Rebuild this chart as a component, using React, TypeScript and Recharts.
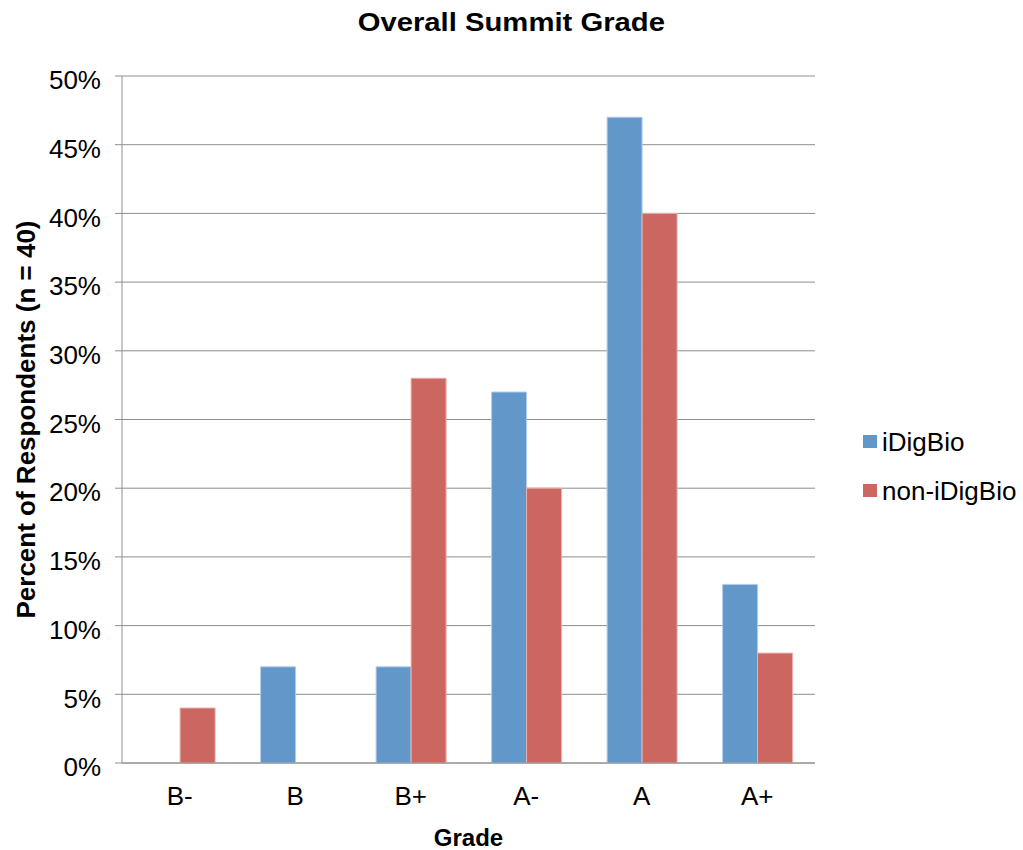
import React from 'react';
import { BarChart, Bar, XAxis, YAxis, CartesianGrid, Legend, Label } from 'recharts';

const categories = ['B-', 'B', 'B+', 'A-', 'A', 'A+'];
const iDigBioValues = [0, 7, 7, 27, 47, 13];
const nonIDigBioValues = [4, 0, 28, 20, 40, 8];
const yTicks = [0, 5, 10, 15, 20, 25, 30, 35, 40, 45, 50];
const boundaryTicks = [0, 1, 2, 3, 4, 5, 6];
const seriesNames = ['iDigBio', 'non-iDigBio'];
const seriesColors = ['#6197C9', '#CC6661'];

const data = categories.map((c, i) => ({
  grade: c,
  iDigBio: iDigBioValues[i],
  nonIDigBio: nonIDigBioValues[i],
}));

const FONT = '"Liberation Sans", Arial, Helvetica, sans-serif';
const AXIS_GRAY = '#8E8E8E';

const EmptyTick = () => <g />;

const YLabel = (props: any) => {
  const vb = props.viewBox || { x: 0, y: 0, width: 0, height: 0 };
  const x = vb.x + 35;
  const y = vb.y + vb.height / 2;
  return (
    <text
      x={x}
      y={y}
      transform={`rotate(-90, ${x}, ${y})`}
      textAnchor="middle"
      fontFamily={FONT}
      fontWeight="bold"
      fontSize={26}
      fill="#000"
    >
      Percent of Respondents (n = 40)
    </text>
  );
};

const LegendContent = (props: any) => {
  const payload = props.payload || [];
  return (
    <div style={{ fontFamily: FONT, fontSize: 26, color: '#000' }}>
      {payload.map((entry: any, i: number) => (
        <div key={i} style={{ display: 'flex', alignItems: 'center', height: 49 }}>
          <div style={{ width: 14, height: 13, background: entry.color, marginRight: 5 }} />
          <span style={{ lineHeight: '26px' }}>{entry.value}</span>
        </div>
      ))}
    </div>
  );
};

export default function App() {
  return (
    <div style={{ position: 'absolute', left: 0, top: 0, width: 1023, height: 850, background: '#fff' }}>
      <div
        style={{
          position: 'absolute',
          left: 0,
          top: 10,
          width: 1023,
          textAlign: 'center',
        }}
      >
        <span
          style={{
            display: 'inline-block',
            fontFamily: FONT,
            fontWeight: 'bold',
            fontSize: 25,
            lineHeight: '25px',
            color: '#000',
            transform: 'scaleX(1.17)',
            transformOrigin: 'center',
          }}
        >
          Overall Summit Grade
        </span>
      </div>
      <BarChart
        width={1023}
        height={850}
        data={data}
        margin={{ top: 76, right: 208, bottom: 0, left: 0 }}
        barCategoryGap="20%"
        barGap={0}
      >
        <CartesianGrid xAxisId="cat" vertical={false} stroke={AXIS_GRAY} strokeWidth={1} />
        <XAxis
          xAxisId="grid"
          type="number"
          domain={[0, 6]}
          ticks={boundaryTicks}
          height={0}
          axisLine={false}
          tickLine={{ stroke: AXIS_GRAY }}
          tickSize={7}
          tick={EmptyTick}
          interval={0}
        />
        <XAxis
          xAxisId="cat"
          dataKey="grade"
          height={87}
          axisLine={{ stroke: AXIS_GRAY }}
          tickLine={false}
          tickSize={0}
          tickMargin={24}
          tick={{ fontSize: 26, fill: '#000', fontFamily: FONT }}
          interval={0}
        >
          <Label
            value="Grade"
            position="insideBottom"
            offset={4}
            style={{ fontFamily: FONT, fontWeight: 'bold', fontSize: 24, fill: '#000' }}
          />
        </XAxis>
        <YAxis
          width={122}
          domain={[0, 50]}
          ticks={yTicks}
          interval={0}
          tickFormatter={(v: number) => `${v}%`}
          axisLine={{ stroke: AXIS_GRAY }}
          tickLine={{ stroke: AXIS_GRAY }}
          tickSize={7}
          tickMargin={14}
          tick={{ fontSize: 26, fill: '#000', fontFamily: FONT, dy: 4 }}
        >
          <Label content={<YLabel />} />
        </YAxis>
        <Legend
          layout="vertical"
          align="center"
          verticalAlign="middle"
          content={<LegendContent />}
          wrapperStyle={{ left: 863, top: 417, width: 160 }}
        />
        <Bar
          xAxisId="cat"
          dataKey="iDigBio"
          name={seriesNames[0]}
          fill={seriesColors[0]}
          stroke="#B3CDE8"
          strokeWidth={1}
          isAnimationActive={false}
        />
        <Bar
          xAxisId="cat"
          dataKey="nonIDigBio"
          name={seriesNames[1]}
          fill={seriesColors[1]}
          stroke="#E8B0AC"
          strokeWidth={1}
          isAnimationActive={false}
        />
      </BarChart>
    </div>
  );
}
